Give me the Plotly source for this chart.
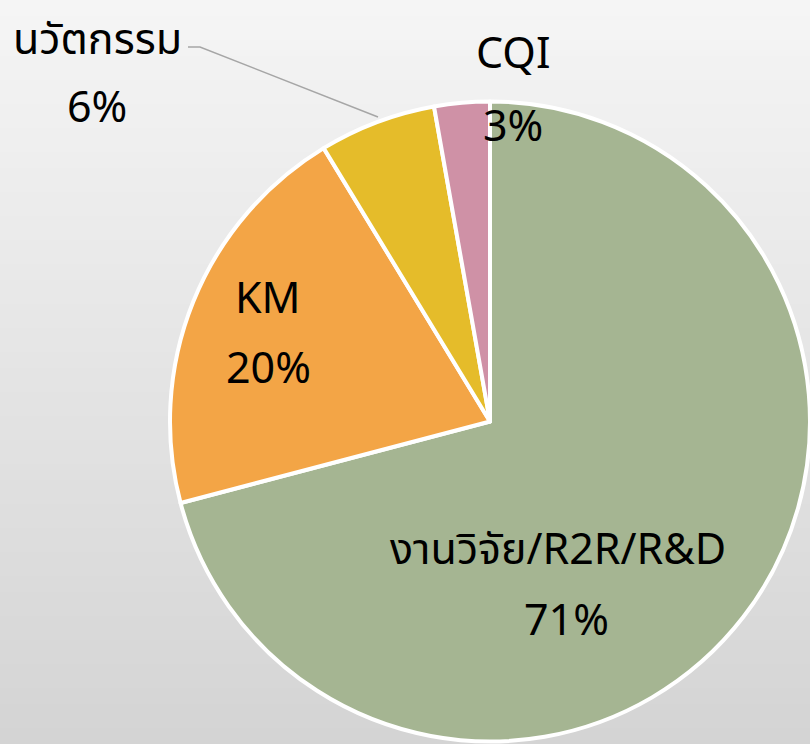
import plotly.graph_objects as go

labels = ["งานวิจัย/R2R/R&D", "KM", "นวัตกรรม", "CQI"]
values = [70.9, 20.4, 5.9, 2.8]
colors = ["#a5b592", "#f3a546", "#e5bc2a", "#cf91a6"]

W, H = 810, 744
total = sum(values)
pct_text = [f"{round(v / total * 100)}%" for v in values]

fig = go.Figure()
fig.add_trace(go.Pie(
    labels=labels, values=values, sort=False, direction="clockwise", rotation=0,
    marker=dict(colors=colors, line=dict(color="white", width=4)),
    textinfo="none", hoverinfo="label+percent", showlegend=False,
    domain=dict(x=[170 / W, 1.0], y=[1 - 742 / H, 1 - 101 / H]),
))

# background gradient
shapes = []
n = 93
top, bot = 245, 212
for i in range(n):
    c = round(top + (bot - top) * i / (n - 1))
    shapes.append(dict(type="rect", xref="paper", yref="paper", x0=0, x1=1,
                       y0=1 - (i + 1) / n, y1=1 - i / n, layer="below",
                       fillcolor=f"rgb({c},{c},{c})", line=dict(width=0)))
# leader line for small slice label
shapes.append(dict(type="path", xref="paper", yref="paper",
                   path=f"M {188/W} {1-47/H} L {200/W} {1-47/H} L {378/W} {1-117/H}",
                   line=dict(color="#a6a6a6", width=1.5)))

# label positions (pixel centers)
name_pos = [(558, 547), (268, 296), (97, 38), (513, 52)]
pct_pos = [(566, 618), (268, 366), (97, 106), (513, 125)]
fs = 43
annotations = []
for lab, p, (nx, ny), (px, py) in zip(labels, pct_text, name_pos, pct_pos):
    annotations.append(dict(text=lab, x=nx / W, y=1 - ny / H, xref="paper", yref="paper",
                            showarrow=False, xanchor="center", yanchor="middle",
                            font=dict(size=fs, color="black")))
    annotations.append(dict(text=p, x=px / W, y=1 - py / H, xref="paper", yref="paper",
                            showarrow=False, xanchor="center", yanchor="middle",
                            font=dict(size=fs, color="black")))

fig.update_layout(
    width=W, height=H, margin=dict(l=0, r=0, t=0, b=0),
    paper_bgcolor="#e6e6e6",
    font=dict(family="Noto Sans, Noto Sans Thai, sans-serif"),
    shapes=shapes, annotations=annotations,
)
fig.write_html("out.html", config={"displayModeBar": False},
               post_script="document.body.style.margin='0';document.body.style.overflow='hidden';")
